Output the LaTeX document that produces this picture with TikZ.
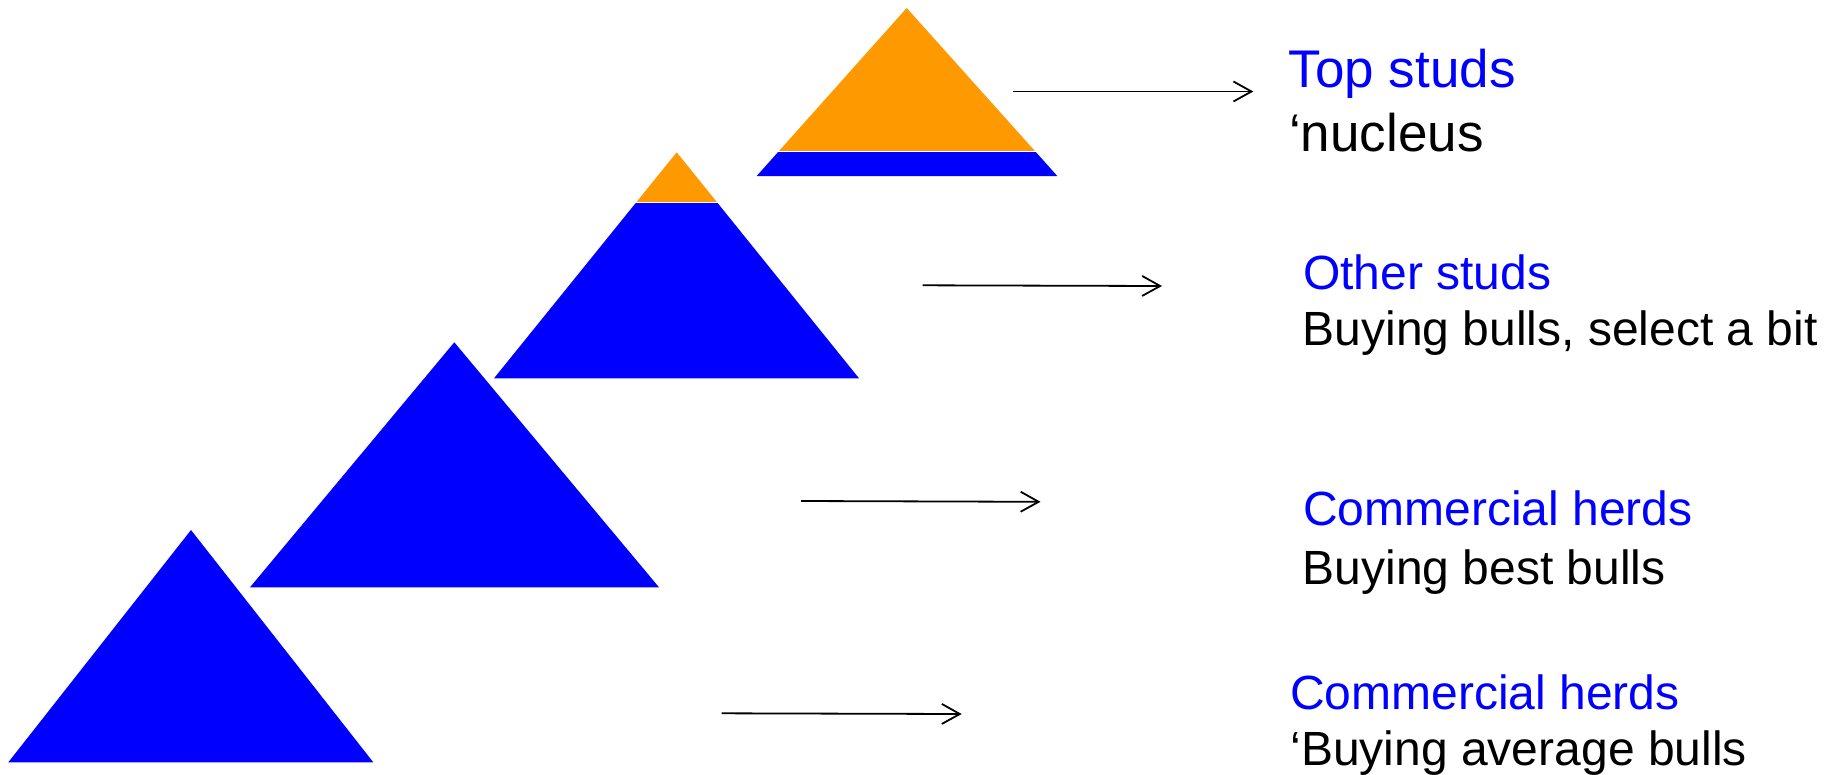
\documentclass[tikz,border=0pt]{standalone}
\usepackage{fontspec}
\setmainfont{Liberation Sans}
\usetikzlibrary{arrows.meta}
\definecolor{pyrorange}{RGB}{255,153,0}
\definecolor{pyrblue}{RGB}{0,0,255}
\tikzset{
  pointer/.style={line width=1.8pt, -{Straight Barb[length=18pt,width=20pt,line width=1.8pt]}},
  headtext/.style={anchor=base west, inner sep=0pt, text=pyrblue, font=\fontsize{48}{56}\selectfont},
  subtext/.style={anchor=base west, inner sep=0pt, text=black, font=\fontsize{48}{56}\selectfont},
  bigtext/.style={font=\fontsize{53}{62}\selectfont}
}
\begin{document}
\begin{tikzpicture}[x=1pt,y=-1pt]
\useasboundingbox (0,0) rectangle (1831,774);
% triangle 1 (top)
\begin{scope}
  \clip (0,0) rectangle (1831,150);
  \fill[pyrorange] (906.7,8) -- (756.7,176) -- (1057.3,176) -- cycle;
\end{scope}
\begin{scope}
  \clip (0,152) rectangle (1831,774);
  \fill[pyrblue] (906.7,8) -- (756.7,176) -- (1057.3,176) -- cycle;
\end{scope}
% triangle 2
\begin{scope}
  \clip (0,0) rectangle (1831,201.7);
  \fill[pyrorange] (676.7,152.3) -- (494,378.3) -- (859,378.3) -- cycle;
\end{scope}
\begin{scope}
  \clip (0,203.5) rectangle (1831,774);
  \fill[pyrblue] (676.7,152.3) -- (494,378.3) -- (859,378.3) -- cycle;
\end{scope}
% triangle 3
\fill[pyrblue] (454.3,342.3) -- (250,587.3) -- (659,587.3) -- cycle;
% triangle 4
\fill[pyrblue] (191,530) -- (8.3,762.3) -- (373.3,762.3) -- cycle;

% arrows
\coordinate (a1s) at (1013.3,91.5);  \coordinate (a1e) at (1253.3,91.5);
\coordinate (a2s) at (922.5,285.3);  \coordinate (a2e) at (1162,286);
\coordinate (a3s) at (801,501);      \coordinate (a3e) at (1040.5,501.8);
\coordinate (a4s) at (721.7,713.3);  \coordinate (a4e) at (961.7,714);
\draw[pointer] (a1s) -- (a1e);
\draw[pointer] (a2s) -- (a2e);
\draw[pointer] (a3s) -- (a3e);
\draw[pointer] (a4s) -- (a4e);

% labels
\node[headtext,bigtext] (t1) at (1288.5,87.2) {Top studs};
\node[subtext,bigtext]  (s1) at (1289,151.7) {‘nucleus};
\node[headtext] (t2) at (1303,289.5) {Other studs};
\node[subtext]  (s2) at (1302.5,345.8) {Buying bulls, select a bit};
\node[headtext] (t3) at (1303,525.8) {Commercial herds};
\node[subtext]  (s3) at (1302.5,584.2) {Buying best bulls};
\node[headtext] (t4) at (1290,709.8) {Commercial herds};
\node[subtext]  (s4) at (1290.4,765.8) {‘Buying average bulls};
\end{tikzpicture}
\end{document}
